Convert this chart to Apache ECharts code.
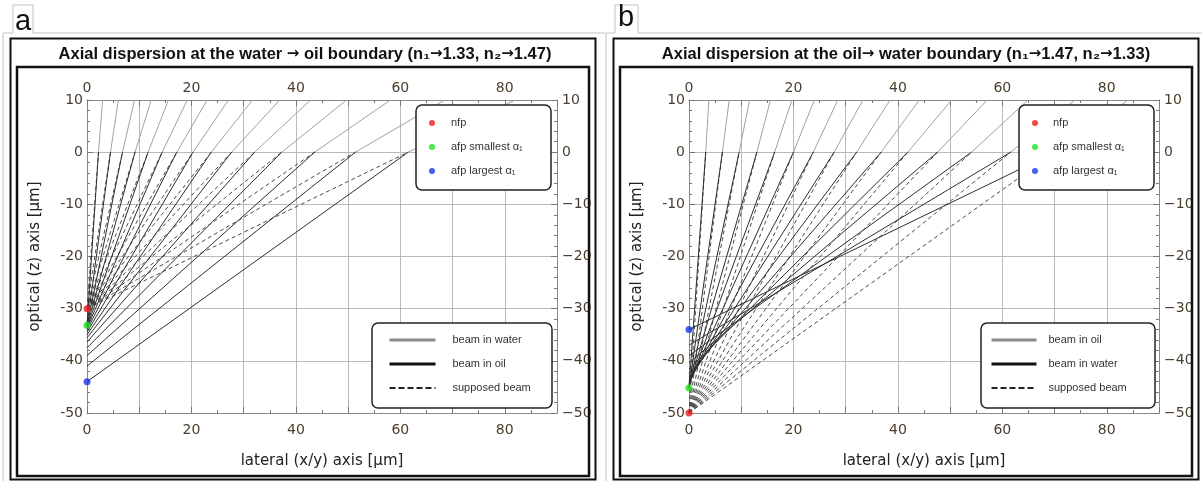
<!DOCTYPE html>
<html>
<head>
<meta charset="utf-8">
<title>Axial dispersion</title>
<script src="https://cdn.jsdelivr.net/npm/echarts@6/dist/echarts.min.js"></script>
<style>
  html, body { margin: 0; padding: 0; background: #fff; }
  #chart { width: 1202px; height: 481px; }
</style>
</head>
<body>
<div id="chart"></div>
<script>
  // values, lateral x and optical z in µm
  // a: water -> oil
  const hitA = [2.2, 4.5, 6.8, 9.2, 11.7, 14.4, 17.2, 20.3, 23.8, 27.7, 32.1, 37.3, 43.6, 51.4, 61.5];   // x where a ray meets the boundary
  const topA = [3.0, 6.0, 9.1, 12.3, 15.6, 19.2, 23.0, 27.1, 31.7, 36.9, 42.8, 49.7, 58.1, 68.5, 82.0];  // x where it leaves the top of the plot
  const crossA = [-33.2, -33.2, -33.3, -33.4, -33.6, -33.8, -34.1, -34.5, -35.0, -35.6, -36.4, -37.5, -39.0, -41.0, -44.0]; // z where the refracted ray meets the axis
  const focusA = [-30, -33.2, -44.0]; // nfp, afp smallest, afp largest

  // b: oil -> water
  const hitB = [3.2, 6.4, 9.6, 13.0, 16.4, 20.0, 23.8, 27.8, 32.1, 36.8, 41.9, 47.6, 54.1, 61.6, 70.1];
  const topB = [3.8, 7.7, 11.6, 15.6, 19.7, 24.0, 28.5, 33.3, 38.5, 44.1, 50.3, 57.1, 64.9, 73.9, 84.1];
  const crossB = [-45.2, -45.2, -45.1, -44.9, -44.7, -44.4, -44.1, -43.7, -43.1, -42.4, -41.6, -40.4, -39.0, -37.0, -34.0];
  const focusB = [-50, -45.2, -34.0];

  const boundaryZ = 0;
  const topZ = 10;
  const xTickLabels = [0, 20, 40, 60, 80];
  const zTickLabels = [-50, -40, -30, -20, -10, 0, 10];
  const focusNames = ['nfp', 'afp smallest α₁', 'afp largest α₁'];
  const focusColors = ['#ee1c1c', '#1ee01e', '#1a36ee'];

  const tickFont = 'DejaVu Sans';
  const tickColor = '#4a3d2c';

  const panels = [
    { key: 'a', left: 87, hit: hitA, top: topA, cross: crossA, focus: focusA,
      upperName: 'beam in water', lowerName: 'beam in oil',
      title: 'Axial dispersion at the water {ar|→} oil boundary (n₁{ar|→}1.33, n₂{ar|→}1.47)', titleX: 305,
      leg1: [429, 116, 11], leg2: [388, 333, 46, 12] },
    { key: 'b', left: 689, hit: hitB, top: topB, cross: crossB, focus: focusB,
      upperName: 'beam in oil', lowerName: 'beam in water',
      title: 'Axial dispersion at the oil{ar|→} water boundary (n₁{ar|→}1.47, n₂{ar|→}1.33)', titleX: 906,
      leg1: [1032, 116, 10], leg2: [990, 333, 45, 7] }
  ];

  const strip = function (name) { return name.split('|')[1]; };

  let grids = [], xAxes = [], yAxes = [], series = [], legends = [], graphics = [];

  panels.forEach(function (p, gi) {
    grids.push({ left: p.left, top: 100, width: 470, height: 313 });

    const xBase = {
      type: 'value', gridIndex: gi, min: 0, max: 90, interval: 10,
      axisLine: { show: true, onZero: false, lineStyle: { color: '#8a8a8a', width: 1 } },
      axisTick: { show: true, inside: true, length: 6, lineStyle: { color: '#777' } },
      minorTick: { show: true, splitNumber: 2, length: 3, lineStyle: { color: '#777' } },
      axisLabel: {
        fontFamily: tickFont, fontSize: 14, color: tickColor,
        formatter: function (v) { return xTickLabels.indexOf(v) >= 0 ? String(v) : ''; }
      },
      splitLine: { show: false }
    };
    xAxes.push(Object.assign({}, xBase, {
      position: 'bottom',
      axisLabel: Object.assign({}, xBase.axisLabel, { margin: 10 }),
      splitLine: { show: true, lineStyle: { color: '#b9b9b9', width: 1 } },
      name: 'lateral (x/y) axis [μm]', nameLocation: 'middle', nameGap: 41,
      nameTextStyle: { fontFamily: tickFont, fontSize: 15, color: '#222' }
    }));
    xAxes.push(Object.assign({}, xBase, {
      position: 'top',
      axisLabel: Object.assign({}, xBase.axisLabel, { margin: 5 })
    }));

    const yBase = {
      type: 'value', gridIndex: gi, min: -50, max: 10, interval: 10,
      axisLine: { show: true, onZero: false, lineStyle: { color: '#8a8a8a', width: 1 } },
      axisTick: { show: true, inside: true, length: 6, lineStyle: { color: '#777' } },
      minorTick: { show: true, splitNumber: 5, length: 3, lineStyle: { color: '#777' } },
      splitLine: { show: false }
    };
    yAxes.push(Object.assign({}, yBase, {
      position: 'left',
      axisLabel: {
        fontFamily: tickFont, fontSize: 14, color: tickColor, margin: 4,
        formatter: function (v) { return zTickLabels.indexOf(v) >= 0 ? String(v) : ''; }
      },
      splitLine: { show: true, lineStyle: { color: '#b9b9b9', width: 1 } },
      name: 'optical (z) axis [μm]', nameLocation: 'middle', nameGap: 44, nameRotate: 90,
      nameTextStyle: { fontFamily: tickFont, fontSize: 15, color: '#222' }
    }));
    yAxes.push(Object.assign({}, yBase, {
      position: 'right',
      axisLabel: {
        fontFamily: tickFont, fontSize: 14, color: tickColor, margin: 5,
        formatter: function (v) { return zTickLabels.indexOf(v) >= 0 ? String(v).replace('-', '−') : ''; }
      }
    }));

    // ray pieces, broken apart with '-' gaps
    let upper = [], supposed = [], lower = [];
    p.hit.forEach(function (x0, i) {
      upper.push([x0, boundaryZ], [p.top[i], topZ], ['-', '-']);
      supposed.push([0, p.focus[0]], [x0, boundaryZ], ['-', '-']);
      lower.push([x0, boundaryZ], [0, p.cross[i]], ['-', '-']);
    });
    const common = { type: 'line', xAxisIndex: gi * 2, yAxisIndex: gi * 2, symbol: 'none', silent: true, animation: false };
    series.push(Object.assign({}, common, {
      name: p.key + '|' + p.upperName, data: upper, color: '#a0a0a0',
      lineStyle: { color: '#a0a0a0', width: 1 }, z: 2
    }));
    series.push(Object.assign({}, common, {
      name: p.key + '|supposed beam', data: supposed, color: '#4a4a4a',
      lineStyle: { color: '#4a4a4a', width: 1, type: [4, 3] }, z: 3
    }));
    series.push(Object.assign({}, common, {
      name: p.key + '|' + p.lowerName, data: lower, color: '#2e2e2e',
      lineStyle: { color: '#2e2e2e', width: 1 }, z: 4
    }));
    focusNames.forEach(function (n, i) {
      series.push({
        type: 'scatter', name: p.key + '|' + n, xAxisIndex: gi * 2, yAxisIndex: gi * 2,
        data: [[0, p.focus[i]]], symbolSize: 7, clip: false, silent: true, animation: false,
        itemStyle: { color: focusColors[i] }, z: 6
      });
    });

    // legends
    legends.push({
      left: p.leg1[0], top: p.leg1[1], orient: 'vertical', padding: 0, itemGap: 10,
      itemWidth: 6, itemHeight: 6, selectedMode: false, z: 20, formatter: strip,
      data: focusNames.map(function (n) { return { name: p.key + '|' + n, icon: 'circle' }; }),
      textStyle: { fontFamily: 'Liberation Sans', fontSize: 11, color: '#333', lineHeight: 14, padding: [0, 0, 0, p.leg1[2]] }
    });
    const noDot = { opacity: 0, color: 'rgba(0,0,0,0)', borderWidth: 0 };
    legends.push({
      left: p.leg2[0], top: p.leg2[1], orient: 'vertical', padding: 0, itemGap: 10,
      itemWidth: p.leg2[2], itemHeight: 14, selectedMode: false, z: 20, formatter: strip,
      data: [
        { name: p.key + '|' + p.upperName, itemStyle: noDot, lineStyle: { width: 3, color: '#8c8c8c' } },
        { name: p.key + '|' + p.lowerName, itemStyle: noDot, lineStyle: { width: 3, color: '#111' } },
        { name: p.key + '|supposed beam', itemStyle: noDot, lineStyle: { width: 2, color: '#222', type: [6, 3] } }
      ],
      textStyle: { fontFamily: 'Liberation Sans', fontSize: 11, color: '#333', lineHeight: 14, padding: [0, 0, 0, p.leg2[3]] }
    });
  });

  // panel frames, tabs, titles and legend boxes
  const frame = function (dx, tabL, tabR, grayL, grayR) {
    graphics.push({
      type: 'polyline', silent: true, z: 1,
      shape: { points: [[grayL, 481], [grayL, 33], [tabL, 33], [tabL, 5], [tabR, 5], [tabR, 33], [grayR, 33]] },
      style: { stroke: '#c4c4c4', lineWidth: 1, fill: null }
    });
    graphics.push({
      type: 'rect', silent: true, z: 1,
      shape: { x: 10.5 + dx, y: 38.5, width: 585, height: 441 },
      style: { stroke: '#111', lineWidth: 2, fill: null }
    });
    graphics.push({
      type: 'rect', silent: true, z: 1,
      shape: { x: 17 + dx, y: 67, width: 572, height: 409 },
      style: { stroke: '#111', lineWidth: 2.5, fill: null }
    });
  };
  frame(0, 13, 33, 3, 605);
  frame(603, 615, 638, 606, 1202);

  graphics.push({ type: 'text', silent: true, z: 30, x: 23, y: 22,
    style: { text: 'a', font: '29px "Liberation Sans"', fill: '#111', align: 'center', verticalAlign: 'middle' } });
  graphics.push({ type: 'text', silent: true, z: 30, x: 626, y: 18,
    style: { text: 'b', font: '29px "Liberation Sans"', fill: '#111', align: 'center', verticalAlign: 'middle' } });

  panels.forEach(function (p) {
    graphics.push({ type: 'text', silent: true, z: 30, x: p.titleX, y: 54,
      style: {
        text: p.title, font: 'bold 16.5px "Liberation Sans"', fill: '#111', align: 'center', verticalAlign: 'middle',
        rich: { ar: { fontFamily: 'DejaVu Sans', fontWeight: 'bold', fontSize: 15, fill: '#111' } }
      } });
  });

  const legendBoxes = [[416, 105, 135, 85], [372, 323, 180, 85], [1019, 105, 135, 85], [981, 323, 174, 85]];
  legendBoxes.forEach(function (b) {
    graphics.push({ type: 'rect', silent: true, z: 10,
      shape: { x: b[0], y: b[1], width: b[2], height: b[3], r: 6 },
      style: { fill: '#fff', stroke: '#222', lineWidth: 1.5 } });
  });

  const chart = echarts.init(document.getElementById('chart'));
  chart.setOption({
    animation: false,
    grid: grids,
    xAxis: xAxes,
    yAxis: yAxes,
    legend: legends,
    series: series,
    graphic: graphics
  });
</script>
</body>
</html>
